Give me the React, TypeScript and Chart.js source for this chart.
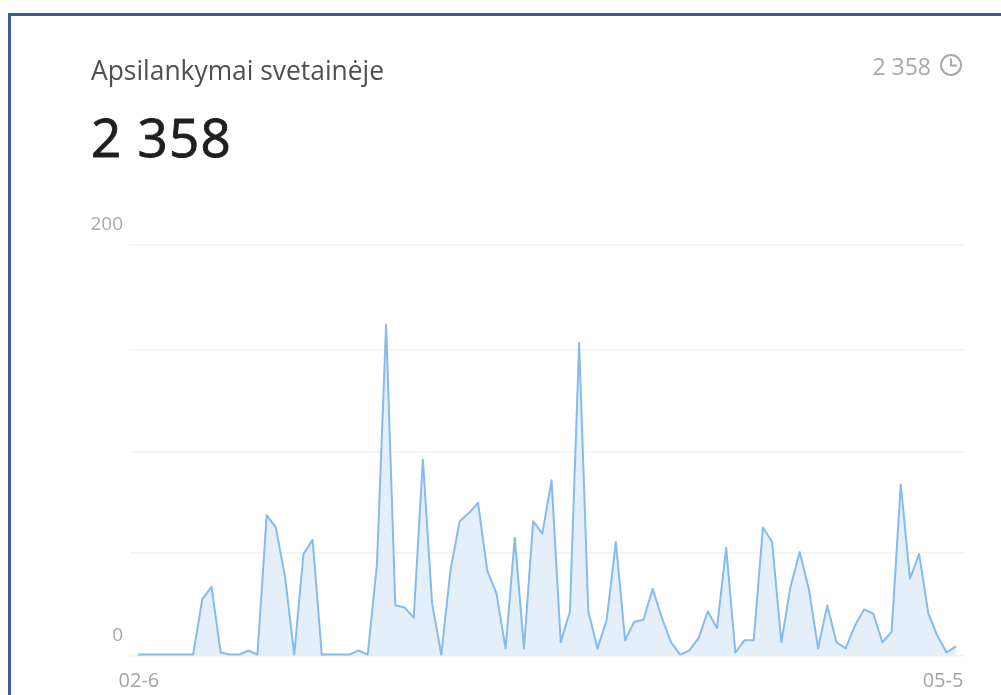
import React, { useEffect, useRef } from "react";
import { Chart, registerables } from "chart.js";

Chart.register(...registerables);

const titleText = "Apsilankymai svetainėje";
const totalText = "2 358";
const visits = [
  0, 0, 0, 0, 0, 0, 0, 27, 33, 1, 0, 0, 2, 0, 68, 62, 38, 0, 49, 56,
  0, 0, 0, 0, 2, 0, 44, 161, 24, 23, 18, 95, 25, 0, 41, 65, 69, 74, 41, 30,
  3, 57, 3, 65, 59, 85, 6, 21, 152, 21, 3, 17, 55, 7, 16, 17, 32, 18, 6, 0,
  2, 8, 21, 13, 52, 1, 7, 7, 62, 55, 6, 33, 50, 32, 3, 24, 6, 3, 14, 22,
  20, 6, 11, 83, 37, 49, 20, 9, 1, 4,
];
const gridValues = [-0.7, 49.6, 98.7, 148.8, 200];
const yTickLabels = ["0", "", "", "", "200"];
const xTickValues = [0.1, 87.6];
const xTickLabels = ["02-6", "05-5"];

const FONT = '"Open Sans", sans-serif';

export default function App() {
  const ref = useRef<HTMLCanvasElement>(null);

  useEffect(() => {
    const chart = new Chart(ref.current!, {
      type: "line",
      data: {
        datasets: [
          {
            data: visits.map((y, x) => ({ x, y })),
            borderColor: "#85bbee",
            borderWidth: 2,
            borderJoinStyle: "round",
            backgroundColor: "#e4effa",
            fill: "start",
            tension: 0,
            pointRadius: 0,
          },
        ],
      },
      options: {
        animation: false,
        responsive: false,
        parsing: false,
        normalized: true,
        layout: { padding: { top: 244.5, right: 37, left: 0, bottom: 0 } },
        plugins: { legend: { display: false }, tooltip: { enabled: false }, title: { display: false } },
        scales: {
          x: {
            type: "linear",
            min: -0.87,
            max: 89.88,
            afterFit: (s: any) => { s.height = 39; },
            afterBuildTicks: (s: any) => { s.ticks = xTickValues.map((value) => ({ value })); },
            border: { display: false },
            grid: { display: false, drawTicks: false },
            ticks: {
              autoSkip: false,
              maxRotation: 0,
              padding: 13,
              color: "#a3a3a3",
              font: { family: FONT, size: 20 },
              callback: (_v: any, i: number) => xTickLabels[i],
            },
          },
          y: {
            min: -0.7,
            max: 200,
            afterFit: (s: any) => { s.width = 130; },
            afterBuildTicks: (s: any) => { s.ticks = gridValues.map((value) => ({ value })); },
            border: { display: false },
            grid: { color: "#f2f2f2", lineWidth: 1.5, drawTicks: false },
            ticks: {
              autoSkip: false,
              padding: 7,
              color: "#a9a9a9",
              font: { family: FONT, size: 19, lineHeight: 1.05 },
              callback: (_v: any, i: number) => (yTickLabels[i] ? [yTickLabels[i], "", ""] : ""),
            },
          },
        },
      },
    } as any);
    return () => chart.destroy();
  }, []);

  return (
    <div style={{ position: "fixed", left: 0, top: 0, width: 1001, height: 695, overflow: "hidden", background: "#fff", fontFamily: FONT }}>
      <div style={{ position: "absolute", left: 8, top: 13, width: 993, height: 682, boxSizing: "border-box", borderTop: "3px solid #3b5b99", borderLeft: "3px solid #3b5b99" }} />
      <canvas ref={ref} width={1001} height={695} style={{ position: "absolute", left: 0, top: 0, width: 1001, height: 695 }} />
      <div style={{ position: "absolute", left: 91, top: 52, fontSize: 26.4, lineHeight: "36px", color: "#4f4f4f", whiteSpace: "nowrap" }}>{titleText}</div>
      <div style={{ position: "absolute", left: 91, top: 101, fontSize: 53, lineHeight: "72px", letterSpacing: 1.2, color: "#1f1f1f", WebkitTextStroke: "0.9px #1f1f1f", whiteSpace: "nowrap" }}>{totalText}</div>
      <div style={{ position: "absolute", right: 70, top: 49, fontSize: 23, lineHeight: "34px", color: "#a8a8a8", whiteSpace: "nowrap" }}>{totalText}</div>
      <svg style={{ position: "absolute", left: 939, top: 53 }} width={24} height={24} viewBox="0 0 24 24" fill="none" stroke="#a8a8a8" strokeWidth={2}>
        <circle cx={12} cy={12} r={10} />
        <path d="M12 5.5V12.5H18" />
      </svg>
    </div>
  );
}
